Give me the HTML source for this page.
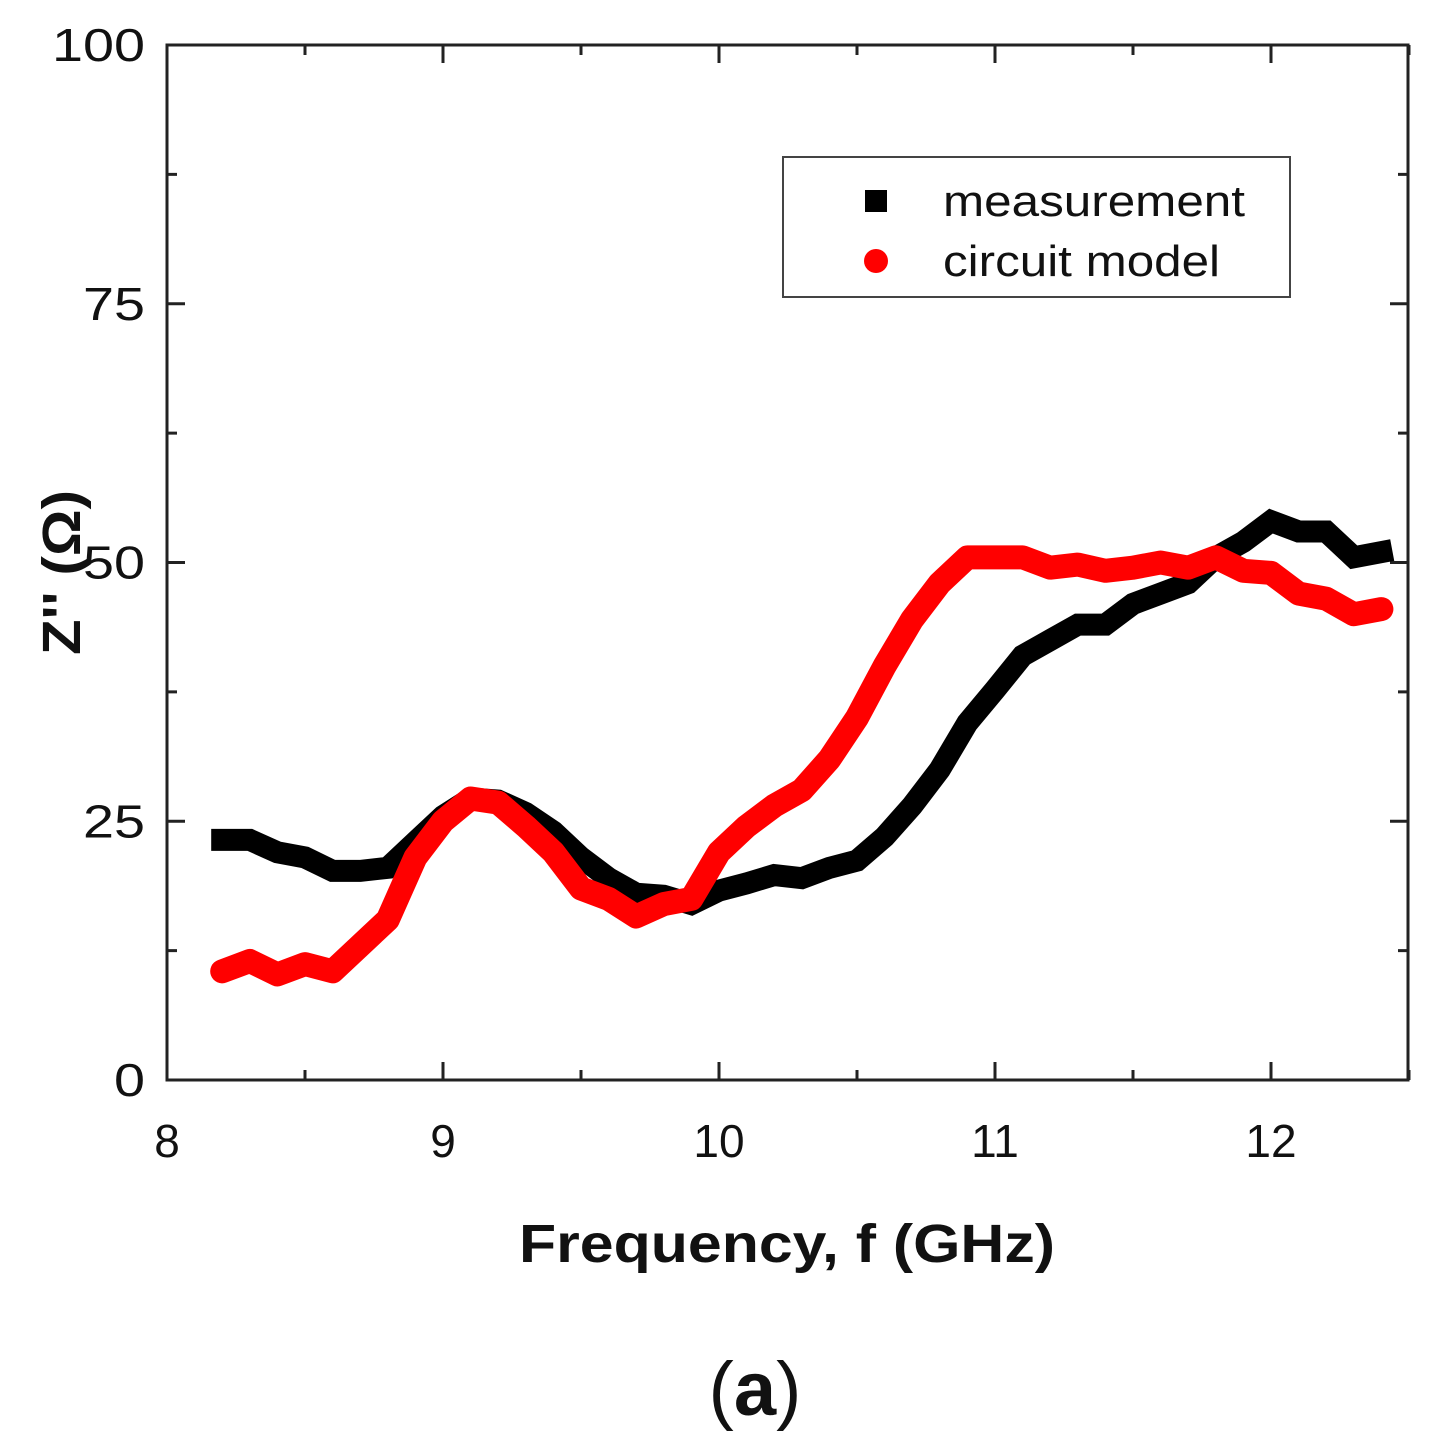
<!DOCTYPE html>
<html><head><meta charset="utf-8"><style>
body{margin:0;background:#fff;width:1430px;height:1446px;overflow:hidden}
svg{display:block}
text{font-family:"Liberation Sans",sans-serif}
</style></head><body>
<svg id="chart" width="1430" height="1446" viewBox="0 0 1430 1446">
<g id="axes"></g>
<g id="series"></g>
<rect x="167" y="45" width="1241" height="1035" fill="none" stroke="#222" stroke-width="3"/>
<g>
<rect x="783" y="157" width="507" height="140" fill="#fff" stroke="#444" stroke-width="2"/>
<rect x="865" y="190" width="22" height="22" fill="#000"/>
<text x="943" y="216" font-size="44" textLength="302" lengthAdjust="spacingAndGlyphs" fill="#111">measurement</text>
<circle cx="876" cy="261" r="12" fill="#f00"/>
<text x="943" y="276" font-size="44" textLength="277" lengthAdjust="spacingAndGlyphs" fill="#111">circuit model</text>
</g>
<text x="519" y="1262" font-size="54" font-weight="bold" textLength="536" lengthAdjust="spacingAndGlyphs" fill="#111">Frequency, f (GHz)</text>
<text transform="translate(80,655) rotate(-90)" font-size="54" font-weight="bold" textLength="165" lengthAdjust="spacingAndGlyphs" fill="#111">Z'' (Ω)</text>
<text x="755" y="1415" font-size="76" font-family="Liberation Serif, serif" text-anchor="middle" fill="#111">(<tspan font-weight="bold">a</tspan>)</text>
</svg>
<script>
const freqs=[8.2,8.3,8.4,8.5,8.6,8.7,8.8,8.9,9.0,9.1,9.2,9.3,9.4,9.5,9.6,9.7,9.8,9.9,10.0,10.1,10.2,10.3,10.4,10.5,10.6,10.7,10.8,10.9,11.0,11.1,11.2,11.3,11.4,11.5,11.6,11.7,11.8,11.9,12.0,12.1,12.2,12.3,12.4];
const measurement=[23.2,23.2,22,21.5,20.2,20.2,20.5,23,25.5,27.2,27,25.8,24,21.5,19.5,18,17.8,17,18.3,19,19.8,19.5,20.5,21.2,23.5,26.5,30,34.5,37.7,41,42.5,44,44,46,47,48,50.5,52,54,53,53,50.5,51];
const circuitModel=[10.5,11.5,10.2,11.2,10.5,13,15.5,21.5,25,27.2,26.8,24.5,22,18.5,17.5,15.8,17,17.5,22,24.5,26.5,28,31,35,40,44.5,48,50.5,50.5,50.5,49.5,49.8,49.2,49.5,50,49.5,50.5,49.2,49,47,46.5,45,45.5];
const xTicks=[8,9,10,11,12];
const yTicks=[0,25,50,75,100];
const X=f=>167+(f-8)*276;
const Y=z=>1080-z*10.35;
const NS="http://www.w3.org/2000/svg";
function mk(tag,attrs,parent){const e=document.createElementNS(NS,tag);for(const k in attrs)e.setAttribute(k,attrs[k]);parent.appendChild(e);return e;}
const axes=document.getElementById('axes');
xTicks.forEach(v=>{
  const t=mk('text',{x:X(v),y:1157,'font-size':46,'text-anchor':'middle',fill:'#111'},axes);t.textContent=v;
  
  
  [[1080,1062],[45,63]].forEach(([a,b])=>{const l=mk('line',{x1:X(v),x2:X(v),y1:a,y2:b,stroke:'#222','stroke-width':3},axes);
    
    });
  if(v<12.5){[[1080,1070],[45,55]].forEach(([a,b])=>{const l=mk('line',{x1:X(v+0.5),x2:X(v+0.5),y1:a,y2:b,stroke:'#222','stroke-width':3},axes);
    
    });}
});
yTicks.forEach(v=>{
  const s=String(v);
  const t=mk('text',{x:145,y:Y(v)+16,'font-size':46,'text-anchor':'end',fill:'#111',textLength:31*s.length,lengthAdjust:'spacingAndGlyphs'},axes);t.textContent=v;
  
  
  [[167,185],[1408,1390]].forEach(([a,b])=>{const l=mk('line',{x1:a,x2:b,y1:Y(v),y2:Y(v),stroke:'#222','stroke-width':3},axes);
    
    });
  if(v<100){[[167,177],[1408,1398]].forEach(([a,b])=>{const l=mk('line',{x1:a,x2:b,y1:Y(v+12.5),y2:Y(v+12.5),stroke:'#222','stroke-width':3},axes);
    
    });}
});
const ser=document.getElementById('series');
const pm=freqs.map((f,i)=>X(f)+','+Y(measurement[i])).join(' ');
const m=mk('polyline',{points:pm,fill:'none',stroke:'#000','stroke-width':22,'stroke-linejoin':'miter','stroke-linecap':'square'},ser);


const pc=freqs.map((f,i)=>X(f)+','+Y(circuitModel[i])).join(' ');
const c=mk('polyline',{points:pc,fill:'none',stroke:'#f00','stroke-width':24,'stroke-linejoin':'round','stroke-linecap':'round'},ser);


</script>
</body></html>
